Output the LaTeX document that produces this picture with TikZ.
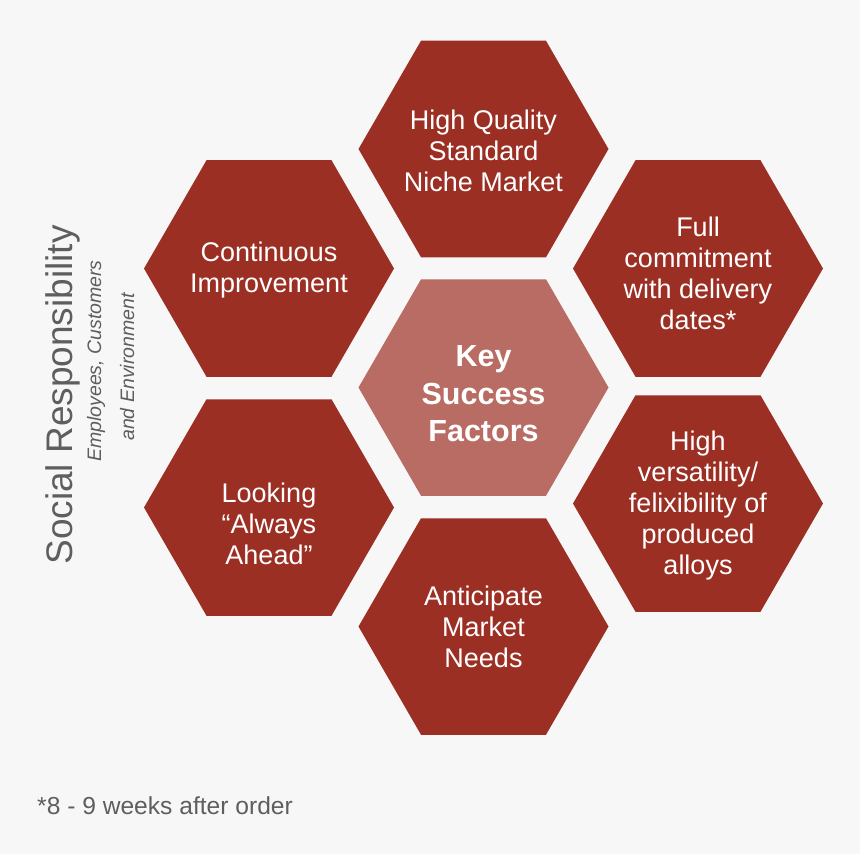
\documentclass[tikz,border=0pt]{standalone}
\usepackage{fontspec}
\setmainfont{Liberation Sans}
\usetikzlibrary{shapes.geometric}
\definecolor{hexred}{HTML}{9C2F24}
\definecolor{hexpink}{HTML}{B86C63}
\definecolor{bgcol}{HTML}{F7F7F7}
\definecolor{greytext}{HTML}{5E5E5E}
\begin{document}
\begin{tikzpicture}[x=1pt,y=1pt,
  hexbox/.style={regular polygon, regular polygon sides=6, minimum size=250pt,
    inner sep=0pt, draw=none, fill=hexred},
  hextext/.style={text=white, align=center, inner sep=0pt,
    font=\fontsize{27}{31}\selectfont},
  keytext/.style={text=white, align=center, inner sep=0pt,
    font=\fontsize{30.5}{37.5}\selectfont\bfseries},
  sidetitle/.style={text=greytext, rotate=90, anchor=base, inner sep=0pt,
    font=\fontsize{37}{40}\selectfont},
  sidesub/.style={text=greytext, rotate=90, anchor=base, inner sep=0pt,
    font=\fontsize{19.5}{24}\selectfont\itshape},
  footnote/.style={text=greytext, anchor=base west, inner sep=0pt,
    font=\fontsize{24.6}{28}\selectfont}]
\useasboundingbox (0,0) rectangle (860,-854);
\fill[bgcol] (0,0) rectangle (860,-854);

% hexagons
\node[hexbox] (top)  at (483.5,-149) {};
\node[hexbox] (cont) at (269,-268.5) {};
\node[hexbox] (full) at (698,-268.5) {};
\node[hexbox, fill=hexpink] (key) at (483.5,-387.5) {};
\node[hexbox] (look) at (269,-507.5) {};
\node[hexbox] (vers) at (698,-503.5) {};
\node[hexbox] (anti) at (483.5,-626.5) {};

% texts
\node[hextext] (toptxt)  at (483.5,-151) {High Quality\\Standard\\Niche Market};
\node[hextext] (conttxt) at (269,-270) {Continuous\\Improvement};
\node[hextext] (fulltxt) at (698,-273) {Full\\commitment\\with delivery\\dates*};
\node[keytext] (keytxt)  at (483.5,-394) {Key\\Success\\Factors};
\node[hextext] (looktxt) at (269,-524) {Looking\\“Always\\Ahead”};
\node[hextext] (verstxt) at (698,-506) {High\\versatility/\\felixibility of\\produced\\alloys};
\node[hextext] (antitxt) at (483.5,-627) {Anticipate\\Market\\Needs};

% side text
\node[sidetitle] (social) at (72,-395) {Social Responsibility};
\node[sidesub] (sub1) at (101,-361) {Employees, Customers};
\node[sidesub] (sub2) at (134,-367) {and Environment};

% footnote
\node[footnote] (foot) at (37,-814) {*8 - 9 weeks after order};
\end{tikzpicture}
\end{document}
